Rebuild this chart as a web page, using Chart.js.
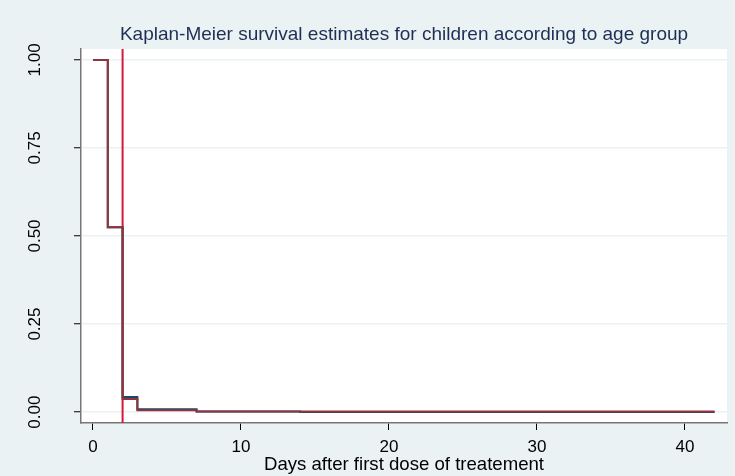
<!DOCTYPE html>
<html>
<head>
<meta charset="utf-8">
<script src="https://cdn.jsdelivr.net/npm/chart.js@4"></script>
<style>
    html, body { margin: 0; padding: 0; background: #eaf2f3; }
    #wrap { width: 735px; height: 476px; }
</style>
</head>
<body>
<div id="wrap"><canvas id="kmChart" width="735" height="476"></canvas></div>
<script>
// Data
const days = [0, 1, 2, 3, 7, 14, 42];
const survivalGroup1 = [1, 0.525, 0.043, 0.008, 0.002, 0.0003, 0.0003];
const survivalGroup2 = [1, 0.525, 0.037, 0.005, 0.002, 0.002, 0.002];
const refDay = 2;

const xTicks = [0, 10, 20, 30, 40];
const yTicks = [0, 0.25, 0.5, 0.75, 1];
const yTickLabels = ['0.00', '0.25', '0.50', '0.75', '1.00'];

const titleText = 'Kaplan-Meier survival estimates for children according to age group';
const xTitle = 'Days after first dose of treatement';

const xMin = -0.81, xMax = 42.84;
const yMin = -0.031, yMax = 1.031;

const FONT = '"Liberation Sans", Arial, sans-serif';

const toPoints = (xs, ys) => xs.map((x, i) => ({ x: x, y: ys[i] }));

// white plot region behind the chart area
const plotBg = {
    id: 'plotBg',
    beforeDraw(chart) {
        const a = chart.chartArea;
        chart.ctx.save();
        chart.ctx.fillStyle = '#fff';
        chart.ctx.fillRect(a.left, a.top, a.right - a.left, a.bottom - a.top);
        chart.ctx.restore();
    }
};

// Title + rotated y labels, drawn against the chart's own scales
const decorations = {
    id: 'decorations',
    afterDraw(chart) {
        const ctx = chart.ctx;
        const area = chart.chartArea;
        const yScale = chart.scales.y;
        ctx.save();
        ctx.font = '19px ' + FONT;
        ctx.fillStyle = '#1e2f55';
        ctx.textAlign = 'center';
        ctx.textBaseline = 'middle';
        ctx.fillText(titleText, (area.left + area.right) / 2, 35);

        ctx.font = '17px ' + FONT;
        ctx.fillStyle = '#000';
        yTicks.forEach((v, i) => {
            const py = yScale.getPixelForValue(v);
            ctx.save();
            ctx.translate(35, py);
            ctx.rotate(-Math.PI / 2);
            ctx.fillText(yTickLabels[i], 0, 0);
            ctx.restore();
        });
        ctx.restore();
    }
};

const ctx = document.getElementById('kmChart').getContext('2d');
new Chart(ctx, {
    type: 'line',
    data: {
        datasets: [
            {
                data: [{ x: refDay, y: yMin }, { x: refDay, y: yMax }],
                borderColor: '#d4173f',
                borderWidth: 2,
                pointRadius: 0,
                order: 3
            },
            {
                data: toPoints(days, survivalGroup1),
                borderColor: '#1a476f',
                borderWidth: 2,
                pointRadius: 0,
                stepped: true,
                order: 2
            },
            {
                data: toPoints(days, survivalGroup2),
                borderColor: '#90353b',
                borderWidth: 2,
                pointRadius: 0,
                stepped: true,
                order: 1
            }
        ]
    },
    plugins: [plotBg, decorations],
    options: {
        responsive: false,
        animation: false,
        layout: { padding: { left: 0, right: 8, top: 49, bottom: 0 } },
        plugins: {
            legend: { display: false },
            tooltip: { enabled: false }
        },
        scales: {
            x: {
                type: 'linear',
                min: xMin,
                max: xMax,
                afterBuildTicks: (scale) => { scale.ticks = xTicks.map(v => ({ value: v })); },
                afterFit: (scale) => { scale.height = 53; },
                grid: { drawOnChartArea: false, drawTicks: true, tickLength: 7, tickColor: '#000', tickWidth: 1 },
                border: { display: true, color: '#777', width: 1.5 },
                ticks: {
                    color: '#000',
                    padding: 7,
                    maxRotation: 0,
                    font: { size: 17, family: FONT }
                },
                title: {
                    display: true,
                    text: xTitle,
                    color: '#000',
                    padding: { top: 0, bottom: 0 },
                    font: { size: 18.6, family: FONT }
                }
            },
            y: {
                type: 'linear',
                min: yMin,
                max: yMax,
                afterBuildTicks: (scale) => { scale.ticks = yTicks.map(v => ({ value: v })); },
                afterFit: (scale) => { scale.width = 81; },
                grid: { color: '#eaf2f3', lineWidth: 1.5, drawTicks: true, tickLength: 7, tickColor: '#000', tickWidth: 1 },
                border: { display: true, color: '#777', width: 1.5 },
                ticks: { display: false }
            }
        }
    }
});
</script>
</body>
</html>
